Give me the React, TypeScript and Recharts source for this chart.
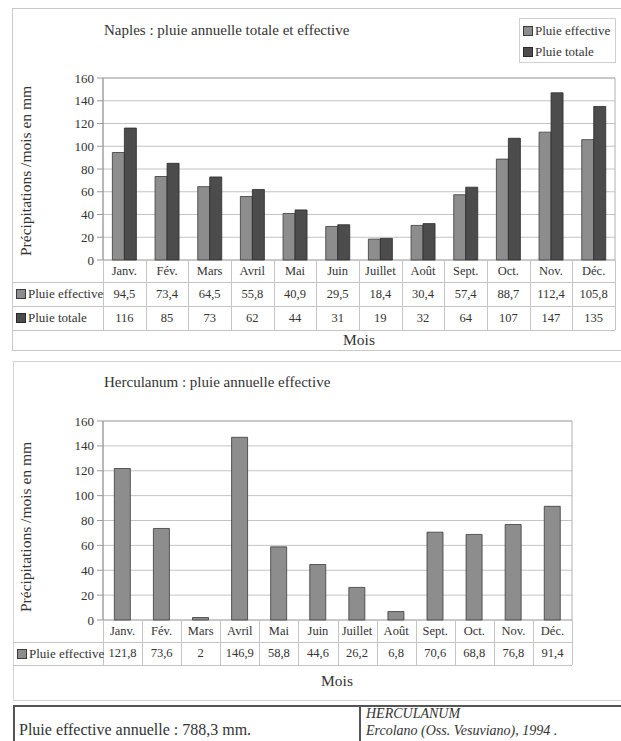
import React from 'react';
import { BarChart, Bar, XAxis, YAxis, CartesianGrid, ReferenceArea } from 'recharts';

const months = ['Janv.', 'Fév.', 'Mars', 'Avril', 'Mai', 'Juin', 'Juillet', 'Août', 'Sept.', 'Oct.', 'Nov.', 'Déc.'];
const naplesEffective = [94.5, 73.4, 64.5, 55.8, 40.9, 29.5, 18.4, 30.4, 57.4, 88.7, 112.4, 105.8];
const naplesTotal = [116, 85, 73, 62, 44, 31, 19, 32, 64, 107, 147, 135];
const herculanumEffective = [121.8, 73.6, 2, 146.9, 58.8, 44.6, 26.2, 6.8, 70.6, 68.8, 76.8, 91.4];
const yTicks = [0, 20, 40, 60, 80, 100, 120, 140, 160];

const naplesTitle = 'Naples : pluie annuelle totale et effective';
const herculanumTitle = 'Herculanum : pluie annuelle effective';
const yLabel = 'Précipitations /mois en mm';
const xLabel = 'Mois';
const effLabel = 'Pluie effective';
const totLabel = 'Pluie totale';
const footerLeft = 'Pluie effective annuelle : 788,3 mm.';
const footerRight1 = 'HERCULANUM';
const footerRight2 = 'Ercolano (Oss. Vesuviano), 1994 .';

const naplesData = months.map((m, i) => ({ month: m, eff: naplesEffective[i], tot: naplesTotal[i] }));
const hercData = months.map((m, i) => ({ month: m, eff: herculanumEffective[i] }));

const FONT = '"Liberation Serif", "Times New Roman", serif';
const TEXT = '#333';
const GRID = '#c4c4c4';
const EFF_FILL = '#8d8d8d';
const EFF_STROKE = '#3a3a3a';
const TOT_FILL = '#4c4c4c';
const TOT_STROKE = '#2a2a2a';

const fmt = (v: number) => String(v).replace('.', ',');

const Swatch = ({ color, stroke }: { color: string; stroke: string }) => (
  <span style={{ display: 'inline-block', width: 8, height: 8, background: color, border: `1px solid ${stroke}`, marginRight: 2, verticalAlign: 'middle', position: 'relative', top: -1 }} />
);

type Row = { label: string; fill: string; stroke: string; values: number[]; h: number };

const DataTable = ({ top, panelLeft, plotLeft, plotRight, monthH, rows }: { top: number; panelLeft: number; plotLeft: number; plotRight: number; monthH: number; rows: Row[] }) => {
  const col = (plotRight - plotLeft) / months.length;
  const total = monthH + rows.reduce((s, r) => s + r.h, 0);
  const els: React.ReactNode[] = [];
  for (let k = 0; k <= months.length; k++) {
    els.push(<div key={'v' + k} style={{ position: 'absolute', left: plotLeft + k * col, top, width: 1, height: total, background: GRID }} />);
  }
  months.forEach((m, i) => {
    els.push(
      <div key={'m' + i} style={{ position: 'absolute', left: plotLeft + i * col, top, width: col, height: monthH, lineHeight: monthH + 'px', textAlign: 'center', fontSize: 12.5, color: TEXT }}>{m}</div>
    );
  });
  let y = top + monthH;
  rows.forEach((r, ri) => {
    els.push(<div key={'h' + ri} style={{ position: 'absolute', left: panelLeft, top: y, width: plotRight - panelLeft, height: 1, background: GRID }} />);
    els.push(
      <div key={'l' + ri} style={{ position: 'absolute', left: panelLeft + 4, top: y, height: r.h, lineHeight: r.h + 'px', fontSize: 13, color: TEXT, whiteSpace: 'nowrap' }}>
        <Swatch color={r.fill} stroke={r.stroke} />{r.label}
      </div>
    );
    r.values.forEach((v, i) => {
      els.push(
        <div key={'c' + ri + '_' + i} style={{ position: 'absolute', left: plotLeft + i * col, top: y, width: col, height: r.h, lineHeight: r.h + 'px', textAlign: 'center', fontSize: 12.5, color: TEXT }}>{fmt(v)}</div>
      );
    });
    y += r.h;
  });
  els.push(<div key="hb" style={{ position: 'absolute', left: panelLeft, top: y, width: plotRight - panelLeft, height: 1, background: GRID }} />);
  return <>{els}</>;
};

const YTitle = ({ cx, cy }: { cx: number; cy: number }) => (
  <div style={{ position: 'absolute', left: cx - 100, top: cy - 10, width: 200, height: 20, lineHeight: '20px', textAlign: 'center', transform: 'rotate(-90deg)', fontSize: 15.5, color: TEXT, whiteSpace: 'nowrap' }}>{yLabel}</div>
);

const tickStyle = { fontSize: 13, fill: TEXT, fontFamily: FONT };

export default function App() {
  return (
    <div style={{ position: 'absolute', left: 0, top: 0, width: 621, height: 741, overflow: 'hidden', background: '#fff', fontFamily: FONT }}>
      {/* Panel 1 */}
      <div style={{ position: 'absolute', left: 12, top: 8, width: 640, height: 343, border: '1.5px solid #c8c8c8', boxSizing: 'border-box' }} />
      <div style={{ position: 'absolute', left: 104, top: 20, fontSize: 15, color: TEXT, lineHeight: '20px', whiteSpace: 'nowrap' }}>{naplesTitle}</div>
      <div style={{ position: 'absolute', left: 519, top: 18, width: 97, height: 45, border: '1px solid #cfcfcf', boxSizing: 'border-box', fontSize: 13, color: TEXT }}>
        <div style={{ position: 'absolute', left: 3, top: 3, lineHeight: '18px', whiteSpace: 'nowrap' }}><Swatch color={EFF_FILL} stroke={EFF_STROKE} />{effLabel}</div>
        <div style={{ position: 'absolute', left: 3, top: 24, lineHeight: '18px', whiteSpace: 'nowrap' }}><Swatch color={TOT_FILL} stroke={TOT_STROKE} />{totLabel}</div>
      </div>
      <YTitle cx={26} cy={171} />
      <div style={{ position: 'absolute', left: 0, top: 0 }}>
        <BarChart width={621} height={270} data={naplesData} margin={{ top: 78, right: 6, bottom: 10, left: 0 }} barCategoryGap="22%" barGap={0} style={{ fontFamily: FONT }}>
          <CartesianGrid vertical={false} stroke={GRID} />
          <XAxis dataKey="month" hide />
          <YAxis width={103} domain={[0, 160]} ticks={yTicks} interval={0} tickSize={6} tickMargin={3} axisLine={{ stroke: '#999' }} tickLine={{ stroke: '#999' }} tick={tickStyle} />
          <ReferenceArea y1={0} y2={160} fill="none" stroke="#b0b0b0" strokeOpacity={1} ifOverflow="visible" />
          <Bar dataKey="eff" fill={EFF_FILL} stroke={EFF_STROKE} strokeWidth={0.8} isAnimationActive={false} />
          <Bar dataKey="tot" fill={TOT_FILL} stroke={TOT_STROKE} strokeWidth={0.8} isAnimationActive={false} />
        </BarChart>
      </div>
      <DataTable top={260} panelLeft={12} plotLeft={103} plotRight={615} monthH={22}
        rows={[
          { label: effLabel, fill: EFF_FILL, stroke: EFF_STROKE, values: naplesEffective, h: 24 },
          { label: totLabel, fill: TOT_FILL, stroke: TOT_STROKE, values: naplesTotal, h: 24 },
        ]} />
      <div style={{ position: 'absolute', left: 309, top: 330, width: 100, textAlign: 'center', fontSize: 15.5, lineHeight: '20px', color: TEXT }}>{xLabel}</div>

      {/* Panel 2 */}
      <div style={{ position: 'absolute', left: 13, top: 361, width: 640, height: 340, border: '1.5px solid #d4d4d4', boxSizing: 'border-box' }} />
      <div style={{ position: 'absolute', left: 104, top: 372, fontSize: 15, color: TEXT, lineHeight: '20px', whiteSpace: 'nowrap' }}>{herculanumTitle}</div>
      <YTitle cx={26} cy={527} />
      <div style={{ position: 'absolute', left: 0, top: 361 }}>
        <BarChart width={621} height={270} data={hercData} margin={{ top: 60, right: 49, bottom: 11, left: 0 }} barCategoryGap="29%" barGap={0} style={{ fontFamily: FONT }}>
          <CartesianGrid vertical={false} stroke={GRID} />
          <XAxis dataKey="month" hide />
          <YAxis width={103} domain={[0, 160]} ticks={yTicks} interval={0} tickSize={6} tickMargin={3} axisLine={{ stroke: '#999' }} tickLine={{ stroke: '#999' }} tick={tickStyle} />
          <ReferenceArea y1={0} y2={160} fill="none" stroke="#b0b0b0" strokeOpacity={1} ifOverflow="visible" />
          <Bar dataKey="eff" fill={EFF_FILL} stroke={EFF_STROKE} strokeWidth={0.8} isAnimationActive={false} />
        </BarChart>
      </div>
      <DataTable top={620} panelLeft={13} plotLeft={103} plotRight={572} monthH={22}
        rows={[
          { label: effLabel, fill: EFF_FILL, stroke: EFF_STROKE, values: herculanumEffective, h: 23 },
        ]} />
      <div style={{ position: 'absolute', left: 287, top: 671, width: 100, textAlign: 'center', fontSize: 15.5, lineHeight: '20px', color: TEXT }}>{xLabel}</div>

      {/* Footer */}
      <div style={{ position: 'absolute', left: 13, top: 705, width: 640, height: 60, border: '2px solid #555', boxSizing: 'border-box' }} />
      <div style={{ position: 'absolute', left: 359, top: 705, width: 1.5, height: 40, background: '#555' }} />
      <div style={{ position: 'absolute', left: 19, top: 721, fontSize: 16, color: TEXT, lineHeight: '18px', whiteSpace: 'nowrap' }}>{footerLeft}</div>
      <div style={{ position: 'absolute', left: 366, top: 705, fontSize: 14, color: TEXT, lineHeight: '18px', fontStyle: 'italic', whiteSpace: 'nowrap' }}>{footerRight1}</div>
      <div style={{ position: 'absolute', left: 366, top: 722, fontSize: 14, color: TEXT, lineHeight: '18px', fontStyle: 'italic', whiteSpace: 'nowrap' }}>{footerRight2}</div>
    </div>
  );
}
